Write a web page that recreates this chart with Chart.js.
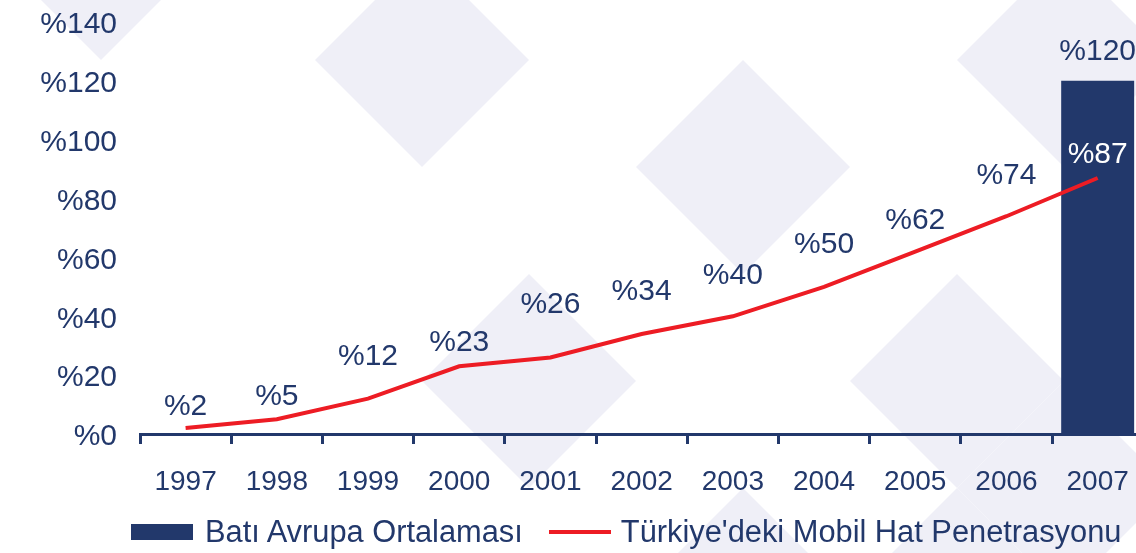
<!DOCTYPE html>
<html lang="tr">
<head>
<meta charset="utf-8">
<title>Mobil Hat Penetrasyonu</title>
<script src="https://cdn.jsdelivr.net/npm/chart.js@4.4.1/dist/chart.umd.min.js"></script>
<style>
  html, body { margin: 0; padding: 0; background: #fff; overflow: hidden; }
  #wrap { position: relative; width: 1150px; height: 553px; }
  #legend {
    position: absolute; left: 131px; top: 515px; height: 34px;
    display: flex; align-items: center; white-space: nowrap;
    font: 30.8px "Liberation Sans", Arial, sans-serif; color: #22386b;
  }
  .swatch-bar { width: 62px; height: 16px; background: #22386b; margin-right: 12px; }
  .swatch-line { width: 62px; height: 4px; background: #ed1c24; margin: 0 10px 0 26px; }
</style>
</head>
<body>
<div id="wrap">
  <canvas id="chart" width="1150" height="553"></canvas>
  <div id="legend">
    <div class="swatch-bar"></div><span>Batı Avrupa Ortalaması</span>
    <div class="swatch-line"></div><span>Türkiye'deki Mobil Hat Penetrasyonu</span>
  </div>
</div>
<script>
// values
const years = ["1997", "1998", "1999", "2000", "2001", "2002", "2003", "2004", "2005", "2006", "2007"];
const turkiye = [2, 5, 12, 23, 26, 34, 40, 50, 62, 74, 87];
const batiAvrupa = [null, null, null, null, null, null, null, null, null, null, 120];

// how far each % label sits above its point (px)
const labelLift = [21, 23, 42, 24, 53, 42, 41, 42, 31, 40, 23];
const barLabelLift = 29;

const navy = "#22386b";
const red = "#ed1c24";
const lavender = "#efeff7";
const fontFamily = '"Liberation Sans", Arial, sans-serif';

// faint diamond pattern behind the chart
const diamondCenters = [[101, -47], [422, 60], [743, 167], [1064, 60], [529, 381], [957, 381], [743, 595], [957, 595], [1064, 488]];
const diamondHalf = 107;

Chart.defaults.font.family = fontFamily;

const bgDiamonds = {
  id: "bgDiamonds",
  beforeDraw(chart) {
    const ctx = chart.ctx;
    ctx.save();
    ctx.fillStyle = lavender;
    diamondCenters.forEach(([cx, cy]) => {
      ctx.beginPath();
      ctx.moveTo(cx, cy - diamondHalf);
      ctx.lineTo(cx + diamondHalf, cy);
      ctx.lineTo(cx, cy + diamondHalf);
      ctx.lineTo(cx - diamondHalf, cy);
      ctx.closePath();
      ctx.fill();
    });
    ctx.restore();
  }
};

const valueLabels = {
  id: "valueLabels",
  afterDatasetsDraw(chart) {
    const ctx = chart.ctx;
    const lineMeta = chart.getDatasetMeta(0);
    const barMeta = chart.getDatasetMeta(1);
    ctx.save();
    ctx.font = "30px " + fontFamily;
    ctx.textAlign = "center";
    ctx.textBaseline = "middle";
    barMeta.data.forEach((bar, i) => {
      if (batiAvrupa[i] == null) return;
      ctx.fillStyle = navy;
      ctx.fillText("%" + batiAvrupa[i], bar.x, bar.y - barLabelLift);
    });
    lineMeta.data.forEach((pt, i) => {
      const y = pt.y - labelLift[i];
      const bar = barMeta.data[i];
      const onBar = batiAvrupa[i] != null && y > bar.y && Math.abs(pt.x - bar.x) < bar.width / 2;
      ctx.fillStyle = onBar ? "#ffffff" : navy;
      ctx.fillText("%" + turkiye[i], pt.x, y);
    });
    ctx.restore();
  }
};

new Chart(document.getElementById("chart"), {
  type: "bar",
  data: {
    labels: years,
    datasets: [
      {
        type: "line",
        label: "Türkiye'deki Mobil Hat Penetrasyonu",
        data: turkiye,
        borderColor: red,
        backgroundColor: red,
        borderWidth: 4,
        pointRadius: 0,
        tension: 0,
        order: 0
      },
      {
        type: "bar",
        label: "Batı Avrupa Ortalaması",
        data: batiAvrupa,
        backgroundColor: navy,
        barPercentage: 0.8,
        categoryPercentage: 1,
        order: 1
      }
    ]
  },
  options: {
    responsive: false,
    animation: false,
    layout: { padding: { top: 22, right: 4, left: 0, bottom: 0 } },
    plugins: {
      legend: { display: false },
      tooltip: { enabled: false }
    },
    scales: {
      x: {
        offset: true,
        grid: { display: true, drawOnChartArea: false, drawTicks: true, tickLength: 10, color: navy, lineWidth: 3 },
        border: { display: true, color: navy, width: 3 },
        ticks: { color: navy, font: { size: 28 }, padding: 21, maxRotation: 0, autoSkip: false },
        afterFit: (s) => { s.height = 119; }
      },
      y: {
        min: 0,
        max: 140,
        // grid hidden, tick length only used as the gap before the labels
        grid: { display: false, drawTicks: true, tickLength: 23 },
        border: { display: false },
        ticks: { stepSize: 20, color: navy, font: { size: 30 }, padding: 0, labelOffset: 3, callback: (v) => "%" + v },
        afterFit: (s) => { s.width = 140; }
      }
    }
  },
  plugins: [bgDiamonds, valueLabels]
});
</script>
</body>
</html>
